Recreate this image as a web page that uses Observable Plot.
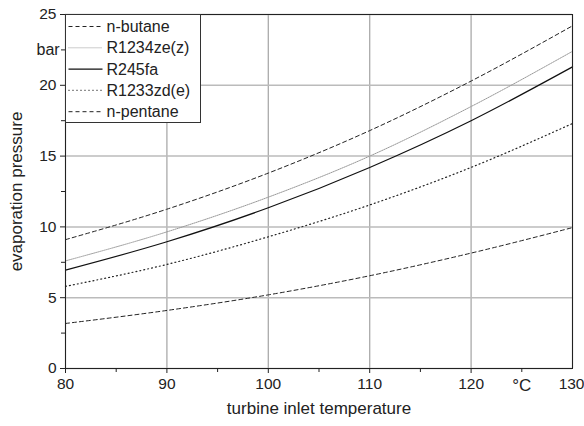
<!DOCTYPE html>
<html>
<head>
<meta charset="utf-8">
<script src="https://cdn.jsdelivr.net/npm/d3@7"></script>
<script src="https://cdn.jsdelivr.net/npm/@observablehq/plot@0.6"></script>
<style>
  html, body { margin: 0; padding: 0; background: #fff; }
  #chart { width: 584px; height: 426px; }
</style>
</head>
<body>
<div id="chart"></div>
<script>
// ---- data ----
const temps = [80, 90, 100, 110, 120, 130];
const nButane   = [9.1, 11.25, 13.8, 16.8, 20.3, 24.2];
const r1234zeZ  = [7.6, 9.65, 12.1, 15.0, 18.5, 22.4];
const r245fa    = [6.95, 8.95, 11.35, 14.2, 17.5, 21.3];
const r1233zdE  = [5.8, 7.35, 9.3, 11.55, 14.2, 17.3];
const nPentane  = [3.18, 4.1, 5.2, 6.55, 8.15, 9.95];
const seriesNames = ["n-butane", "R1234ze(z)", "R245fa", "R1233zd(e)", "n-pentane"];
const seriesValues = [nButane, r1234zeZ, r245fa, r1233zdE, nPentane];
const xTicks = [80, 90, 100, 110, 120, 130];
const xMinor = [85, 95, 105, 115, 125];
const yTicks = [0, 5, 10, 15, 20, 25];
const yMinor = [2.5, 7.5, 12.5, 17.5, 22.5];
const xLabel = "turbine inlet temperature";
const yLabel = "evaporation pressure";
const xUnit = "°C";
const yUnit = "bar";

// styles per series
const styles = [
  {stroke: "#222", strokeWidth: 1, strokeDasharray: "4,3"},
  {stroke: "#999", strokeWidth: 1, strokeDasharray: "1,1"},
  {stroke: "#111", strokeWidth: 1.2, strokeDasharray: null},
  {stroke: "#222", strokeWidth: 1.2, strokeDasharray: "1,3"},
  {stroke: "#222", strokeWidth: 1, strokeDasharray: "4,3"}
];

const rows = [];
seriesNames.forEach((name, i) => {
  temps.forEach((t, j) => rows.push({series: name, t, p: seriesValues[i][j]}));
});

const font = "'Liberation Sans', Arial, sans-serif";

const lineMarks = seriesNames.map((name, i) => {
  const s = styles[i];
  const o = {x: "t", y: "p", curve: "monotone-x", stroke: s.stroke, strokeWidth: s.strokeWidth};
  if (s.strokeDasharray) o.strokeDasharray = s.strokeDasharray;
  return Plot.line(rows.filter(d => d.series === name), o);
});

const lastX = xTicks[xTicks.length - 1];

const chart = Plot.plot({
  width: 584,
  height: 426,
  marginLeft: 65,
  marginRight: 12,
  marginTop: 14,
  marginBottom: 58,
  style: {fontFamily: font, fontSize: "15px", color: "#222", background: "#fff"},
  x: {domain: [80, 130]},
  y: {domain: [0, 25]},
  marks: [
    Plot.gridX(xTicks, {stroke: "#aaa", strokeOpacity: 1, strokeWidth: 1.3}),
    Plot.gridY(yTicks, {stroke: "#bbb", strokeOpacity: 1, strokeWidth: 1.5}),
    ...lineMarks,
    Plot.frame({stroke: "#222", strokeWidth: 1}),
    Plot.axisX(xTicks.slice(0, -1), {tickSize: 5, tickPadding: 4, fontSize: 15.5, label: null, stroke: "#222"}),
    Plot.axisX([lastX], {tickSize: 5, tickPadding: 4, fontSize: 15.5, label: null, stroke: "#222", textAnchor: "end", dx: 12}),
    Plot.axisX(xMinor, {tickSize: 4, tickFormat: () => "", label: null, stroke: "#222"}),
    Plot.axisY(yTicks, {tickSize: 5, tickPadding: 4, fontSize: 15.5, label: null, stroke: "#222"}),
    Plot.axisY(yMinor, {tickSize: 4, tickFormat: () => "", label: null, stroke: "#222"}),
    Plot.text([xUnit], {x: 125, frameAnchor: "bottom", dy: 22, fontSize: 17, fill: "#222"}),
    Plot.text([yUnit], {y: 22.5, frameAnchor: "left", dx: -29, fontSize: 16, fill: "#222"}),
    Plot.text([xLabel], {frameAnchor: "bottom", dy: 45, fontSize: 17, fill: "#222"}),
    Plot.text([yLabel], {frameAnchor: "left", textAnchor: "middle", dx: -49, rotate: -90, fontSize: 17, fill: "#222"})
  ]
});

// legend box inside the plot (top-left)
const svg = d3.select(chart);
const g = svg.append("g").attr("font-family", font).attr("font-size", 16).attr("text-anchor", "start");
const lx = 65.5, ly = 14.5, lw = 135, rowH = 21.3;
g.append("rect").attr("x", lx).attr("y", ly).attr("width", lw).attr("height", 108)
  .attr("fill", "#fff").attr("stroke", "#333").attr("stroke-width", 1);
seriesNames.forEach((name, i) => {
  const y = ly + 12 + i * rowH;
  const s = styles[i];
  const ln = g.append("line").attr("x1", lx + 3).attr("x2", lx + 37).attr("y1", y).attr("y2", y)
    .attr("stroke", s.stroke).attr("stroke-width", s.strokeWidth);
  if (s.strokeDasharray) ln.attr("stroke-dasharray", s.strokeDasharray);
  g.append("text").attr("x", lx + 41).attr("y", y).attr("dy", "0.35em")
    .attr("text-anchor", "start").attr("fill", "#222").text(name);
});

document.getElementById("chart").appendChild(chart);
</script>
</body>
</html>
